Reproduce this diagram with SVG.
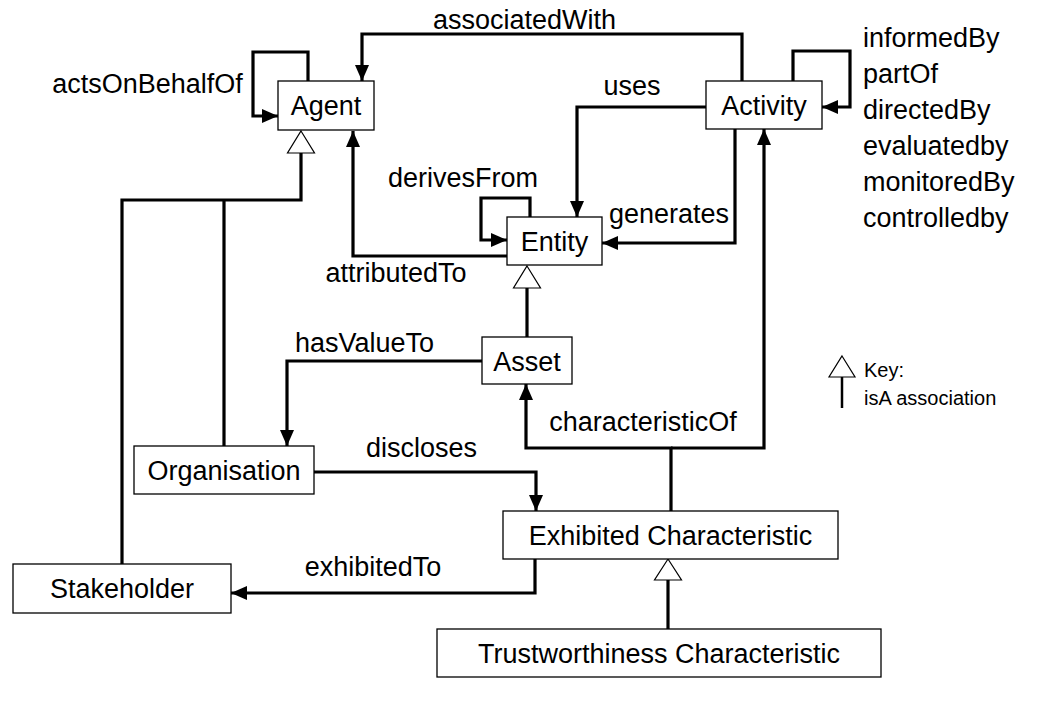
<svg xmlns="http://www.w3.org/2000/svg" width="1056" height="701" viewBox="0 0 1056 701">
<style>
.box{fill:#fff;stroke:#000;stroke-width:1.3}
.t{font-family:"Liberation Sans",Arial,sans-serif;font-size:27px;fill:#000;text-anchor:middle}
.l{font-family:"Liberation Sans",Arial,sans-serif;font-size:27px;fill:#000;text-anchor:middle}
.ls{font-family:"Liberation Sans",Arial,sans-serif;font-size:27px;fill:#000}
.k{font-family:"Liberation Sans",Arial,sans-serif;font-size:20px;fill:#000}
.c{fill:none;stroke:#000;stroke-width:3.2;marker-end:url(#arr)}
.isa{fill:none;stroke:#000;stroke-width:3.2}
.tri{fill:#fff;stroke:#000;stroke-width:1.2}
</style>
<defs>
<marker id="arr" markerUnits="userSpaceOnUse" markerWidth="16" markerHeight="14" refX="16" refY="7" orient="auto">
<path d="M0,0 L16,7 L0,14 z" fill="#000"/>
</marker>
</defs>
<rect width="1056" height="701" fill="#fff"/>
<g id="connectors">
<path class="c" d="M308,81 V52 H253 V116 H278"/>
<path class="c" d="M742,81 V34 H362 V81"/>
<path class="c" d="M706,107 H577 V217"/>
<path class="c" d="M735,129 V243 H602"/>
<path class="c" d="M793,81 V51 H850 V107 H822"/>
<path class="c" d="M530,217 V198 H481 V240 H507"/>
<path class="c" d="M507,256 H353 V131"/>
<path class="c" d="M482,361 H287 V446"/>
<path class="c" d="M314,472 H536 V511"/>
<path class="c" d="M671,511 V448 H526 V384"/>
<path class="c" d="M671,448 H764 V129"/>
<path class="c" d="M535,559 V593 H231"/>
<path class="isa" d="M301,153 V200 H122 V564 M224,200 V446"/>
<path class="tri" d="M301,131 L314.5,153 L287.5,153 z"/>
<path class="isa" d="M527,288 V337"/>
<path class="tri" d="M527,266 L540.5,288 L513.5,288 z"/>
<path class="isa" d="M668,580 V629"/>
<path class="tri" d="M668,559 L681.5,580 L654.5,580 z"/>
<text class="l" x="147.5" y="93">actsOnBehalfOf</text>
<text class="l" x="524.5" y="29">associatedWith</text>
<text class="l" x="632" y="95">uses</text>
<text class="l" x="669" y="223">generates</text>
<text class="l" x="463" y="187">derivesFrom</text>
<text class="l" x="396" y="282">attributedTo</text>
<text class="l" x="364.5" y="352">hasValueTo</text>
<text class="l" x="421.5" y="457">discloses</text>
<text class="l" x="643" y="431">characteristicOf</text>
<text class="l" x="373" y="576">exhibitedTo</text>
<text class="ls" x="863" y="47">informedBy</text>
<text class="ls" x="863" y="83">partOf</text>
<text class="ls" x="863" y="119">directedBy</text>
<text class="ls" x="863" y="155">evaluatedby</text>
<text class="ls" x="863" y="191">monitoredBy</text>
<text class="ls" x="863" y="227">controlledby</text>
</g>
<g id="key">
<path d="M842,377 V408" stroke="#000" stroke-width="2.5" fill="none"/>
<path class="tri" d="M842,356 L855,377 L829,377 z"/>
<text class="k" x="864" y="377">Key:</text>
<text class="k" x="864" y="405">isA association</text>
</g>
<g id="agent"><rect class="box" x="278" y="81" width="96" height="49"/><text class="t" x="326" y="115">Agent</text></g>
<g id="activity"><rect class="box" x="706" y="81" width="116" height="48"/><text class="t" x="764" y="115">Activity</text></g>
<g id="entity"><rect class="box" x="507" y="217" width="95" height="48"/><text class="t" x="554.5" y="251">Entity</text></g>
<g id="asset"><rect class="box" x="482" y="337" width="90" height="47"/><text class="t" x="527" y="371">Asset</text></g>
<g id="organisation"><rect class="box" x="134" y="446" width="180" height="48"/><text class="t" x="224" y="480">Organisation</text></g>
<g id="stakeholder"><rect class="box" x="13" y="564" width="218" height="49"/><text class="t" x="122" y="598">Stakeholder</text></g>
<g id="exhibited"><rect class="box" x="503" y="511" width="335" height="48"/><text class="t" x="670.5" y="545">Exhibited Characteristic</text></g>
<g id="trustworthiness"><rect class="box" x="437" y="629" width="444" height="48"/><text class="t" x="659" y="663">Trustworthiness Characteristic</text></g>
</svg>
